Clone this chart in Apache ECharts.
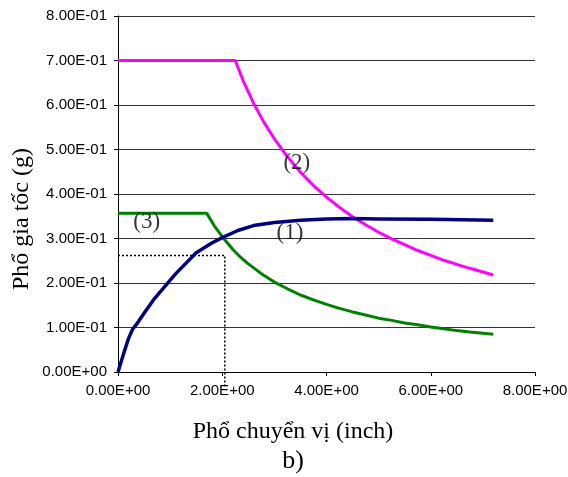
<!DOCTYPE html>
<html>
<head>
<meta charset="utf-8">
<script src="https://cdn.jsdelivr.net/npm/echarts@6/dist/echarts.min.js"></script>
<style>
  html, body { margin: 0; padding: 0; background: #fff; }
  #chart { width: 568px; height: 477px; }
</style>
</head>
<body>
<div id="chart"></div>
<script>
  // tick labels
  var xTickLabels = ['0.00E+00', '2.00E+00', '4.00E+00', '6.00E+00', '8.00E+00']
  var yTickLabels = ['0.00E+00', '1.00E-01', '2.00E-01', '3.00E-01', '4.00E-01',
    '5.00E-01', '6.00E-01', '7.00E-01', '8.00E-01']

  // (1) capacity curve
  var curve1 = [[0, 0], [0.1, 0.038], [0.2, 0.075], [0.28, 0.096], [0.36, 0.108], [0.5, 0.132],
    [0.7, 0.165], [1.1, 0.22], [1.5, 0.268], [1.8, 0.29], [2.0, 0.302], [2.3, 0.318],
    [2.6, 0.329], [3.0, 0.336], [3.5, 0.341], [4.0, 0.344], [4.5, 0.345], [5.0, 0.344],
    [6.0, 0.343], [7.2, 0.341]]

  // (2) demand spectrum
  var curve2 = [[0, 0.7], [2.25, 0.7], [2.4, 0.655], [2.6, 0.604], [2.8, 0.561], [3.0, 0.524],
    [3.25, 0.484], [3.5, 0.449], [3.75, 0.419], [4.0, 0.393], [4.25, 0.37], [4.5, 0.349],
    [4.75, 0.331], [5.0, 0.314], [5.25, 0.299], [5.5, 0.286], [5.75, 0.273], [6.0, 0.262],
    [6.25, 0.251], [6.5, 0.242], [6.75, 0.233], [7.2, 0.218]]

  // (3) reduced spectrum
  var curve3 = [[0, 0.357], [1.7, 0.357], [1.85, 0.328], [2.0, 0.304], [2.2, 0.276], [2.35, 0.258],
    [2.5, 0.243], [2.75, 0.221], [3.0, 0.202], [3.25, 0.187], [3.5, 0.173], [3.75, 0.162],
    [4.0, 0.152], [4.25, 0.143], [4.5, 0.135], [4.75, 0.128], [5.0, 0.121], [5.25, 0.116],
    [5.5, 0.11], [5.75, 0.106], [6.0, 0.101], [6.25, 0.097], [6.5, 0.093], [6.75, 0.09], [7.2, 0.085]]

  // performance point guide
  var guide = [[0, 0.262], [2.05, 0.262], [2.05, -0.032]]

  var curveLabels = [[3.30, 0.313, '(1)'], [3.43, 0.47, '(2)'], [0.55, 0.337, '(3)']]

  var chart = echarts.init(document.getElementById('chart'))

  var option = {
    backgroundColor: '#fff',
    animation: false,
    grid: {
      left: 118,
      right: 33,
      top: 16,
      bottom: 105,
      outerBoundsMode: 'none'
    },
    xAxis: {
      type: 'value',
      min: 0,
      max: 8,
      interval: 2,
      axisLine: { lineStyle: { color: '#000', width: 1 } },
      axisTick: { length: 4, lineStyle: { color: '#000' } },
      splitLine: { show: false },
      axisLabel: {
        margin: 11,
        color: '#000',
        fontFamily: 'Liberation Sans, Arial',
        fontSize: 15,
        formatter: function (v, i) { return xTickLabels[i] }
      }
    },
    yAxis: {
      type: 'value',
      min: 0,
      max: 0.8,
      interval: 0.1,
      axisLine: { show: true, lineStyle: { color: '#000', width: 1 } },
      axisTick: { show: true, length: 4, lineStyle: { color: '#000' } },
      splitLine: { show: true, lineStyle: { color: '#333', width: 1 } },
      axisLabel: {
        margin: 11,
        color: '#000',
        fontFamily: 'Liberation Sans, Arial',
        fontSize: 15,
        formatter: function (v, i) { return yTickLabels[i] }
      }
    },
    graphic: [
      {
        type: 'text',
        x: 22,
        y: 219,
        rotation: Math.PI / 2,
        style: {
          text: 'Phổ gia tốc (g)',
          font: '24px "Liberation Serif", "Times New Roman"',
          fill: '#000',
          textAlign: 'center',
          textVerticalAlign: 'middle'
        }
      },
      {
        type: 'text',
        x: 293,
        y: 432,
        style: {
          text: 'Phổ chuyển vị (inch)',
          font: '24px "Liberation Serif", "Times New Roman"',
          fill: '#000',
          textAlign: 'center',
          textVerticalAlign: 'middle'
        }
      },
      {
        type: 'text',
        x: 293,
        y: 461,
        style: {
          text: 'b)',
          font: '26px "Liberation Serif", "Times New Roman"',
          fill: '#000',
          textAlign: 'center',
          textVerticalAlign: 'middle'
        }
      }
    ],
    series: [
      {
        type: 'line',
        data: guide,
        symbol: 'none',
        clip: false,
        lineStyle: { color: '#000', width: 1.5, type: [2, 2] },
        z: 1
      },
      {
        type: 'line',
        data: curve2,
        symbol: 'none',
        lineStyle: { color: '#ff00ff', width: 3 }
      },
      {
        type: 'line',
        data: curve3,
        symbol: 'none',
        lineStyle: { color: '#008000', width: 3 }
      },
      {
        type: 'line',
        data: curve1,
        symbol: 'none',
        lineStyle: { color: '#000080', width: 3.5, join: 'round' }
      },
      {
        type: 'scatter',
        data: curveLabels,
        symbolSize: 0,
        label: {
          show: true,
          position: 'inside',
          formatter: function (p) { return p.value[2] },
          color: '#000',
          fontFamily: 'Liberation Serif, Times New Roman',
          fontSize: 23
        },
        z: 5
      }
    ]
  }

  chart.setOption(option)
</script>
</body>
</html>
